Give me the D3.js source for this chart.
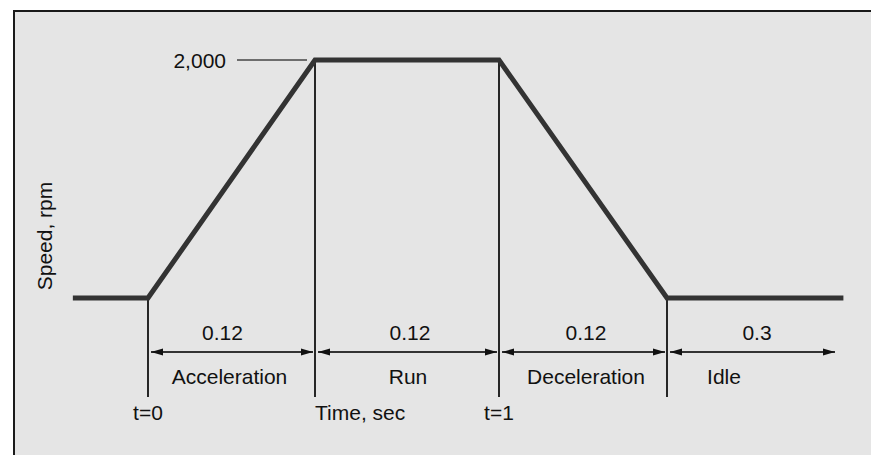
<!DOCTYPE html>
<html>
<head>
<meta charset="utf-8">
<script src="https://cdn.jsdelivr.net/npm/d3@7"></script>
<style>
  html, body { margin: 0; background: #fff; overflow: hidden; }
  svg { display: block; }
  text { font-family: "Liberation Sans", Arial, sans-serif; font-size: 21px; fill: #111; }
</style>
</head>
<body>
<div id="chart"></div>
<script>
// Phase data (seconds)
var phases = ["Acceleration", "Run", "Deceleration", "Idle"];
var durations = [0.12, 0.12, 0.12, 0.3];
var durationLabels = ["0.12", "0.12", "0.12", "0.3"];

// Speed profile points
var profileTime = [-0.054, 0, 0.12, 0.24, 0.36, 0.675];
var profileSpeed = [0, 0, 2000, 2000, 0, 0];

// Time labels under the guide lines
var timeLabels = ["t=0", "Time, sec", "t=1"];
var speedTicks = [2000];

var width = 871, height = 455;

var svg = d3.select("#chart").append("svg")
	.attr("width", width)
	.attr("height", height);

// frame: grey panel, border only on top and left
svg.append("rect")
	.attr("x", 14).attr("y", 11)
	.attr("width", width - 14).attr("height", height - 11)
	.attr("fill", "#e5e5e5");
svg.append("line")
	.attr("x1", 14).attr("x2", 14)
	.attr("y1", 10).attr("y2", height)
	.attr("stroke", "#1a1a1a")
	.attr("stroke-width", 2);
svg.append("line")
	.attr("x1", 13).attr("x2", width)
	.attr("y1", 11).attr("y2", 11)
	.attr("stroke", "#1a1a1a")
	.attr("stroke-width", 2);

// cumulative boundaries
var bounds = [0];
durations.forEach(function(d, i){ bounds.push(+(bounds[i] + d).toFixed(3)); });

// schematic (non proportional) time axis
var x = d3.scaleLinear()
	.domain(bounds)
	.range([148, 315, 499, 667, 835]);

var y = d3.scaleLinear()
	.domain([0, 2000])
	.range([298, 60]);

var guideBottom = 397, arrowY = 352;
// small nudges of the labels off the segment centres, as in the drawing
var durShift = [-9, 3, 3, 6];
var phaseShift = [-2, 1, 3, -27];

// arrow heads
var defs = svg.append("defs");
["start", "end"].forEach(function(k){
	defs.append("marker")
		.attr("id", "arrow-" + k)
		.attr("viewBox", "0 0 12 8")
		.attr("refX", k == "end" ? 12 : 0).attr("refY", 4)
		.attr("markerWidth", 12).attr("markerHeight", 8)
		.attr("markerUnits", "userSpaceOnUse")
		.attr("orient", "auto")
		.append("path")
		.attr("d", k == "end" ? "M0,0.5L12,4L0,7.5Z" : "M12,0.5L0,4L12,7.5Z")
		.attr("fill", "#111");
});

// vertical guide lines at phase boundaries
var speedAt = d3.scaleLinear().domain(profileTime).range(profileSpeed);
svg.append("g")
	.selectAll("line")
	.data(bounds.slice(0, 4))
	.enter().append("line")
	.attr("x1", d => x(d)).attr("x2", d => x(d))
	.attr("y1", d => y(speedAt(d))).attr("y2", guideBottom)
	.attr("stroke", "#111")
	.attr("stroke-width", 1.8);

// duration arrows
svg.append("g")
	.selectAll("line")
	.data(durations)
	.enter().append("line")
	.attr("x1", (d, i) => x(bounds[i]) + 3)
	.attr("x2", (d, i) => x(bounds[i + 1]) - (i < 3 ? 2 : 0))
	.attr("y1", arrowY).attr("y2", arrowY)
	.attr("stroke", "#333")
	.attr("stroke-width", 1.8)
	.attr("marker-start", "url(#arrow-start)")
	.attr("marker-end", "url(#arrow-end)");

// duration labels
svg.append("g")
	.selectAll("text")
	.data(durationLabels)
	.enter().append("text")
	.attr("x", (d, i) => (x(bounds[i]) + x(bounds[i + 1])) / 2 + durShift[i])
	.attr("y", 340)
	.attr("text-anchor", "middle")
	.text(d => d);

// phase names
svg.append("g")
	.selectAll("text")
	.data(phases)
	.enter().append("text")
	.attr("x", (d, i) => (x(bounds[i]) + x(bounds[i + 1])) / 2 + phaseShift[i])
	.attr("y", 384)
	.attr("text-anchor", "middle")
	.text(d => d);

// time labels
svg.append("g")
	.selectAll("text")
	.data(timeLabels)
	.enter().append("text")
	.attr("x", (d, i) => x(bounds[i]))
	.attr("y", 420)
	.attr("text-anchor", (d, i) => i == 1 ? "start" : "middle")
	.text(d => d);

// speed tick with leader line
var tick = svg.append("g")
	.selectAll("g")
	.data(speedTicks)
	.enter().append("g");
tick.append("line")
	.attr("x1", 237).attr("x2", x(bounds[1]) - 8)
	.attr("y1", d => y(d)).attr("y2", d => y(d))
	.attr("stroke", "#444")
	.attr("stroke-width", 1.5);
tick.append("text")
	.attr("x", 226)
	.attr("y", d => y(d) + 8)
	.attr("text-anchor", "end")
	.text(d => d3.format(",")(d));

// y axis title
svg.append("text")
	.attr("transform", "translate(52,236) rotate(-90)")
	.attr("text-anchor", "middle")
	.text("Speed, rpm");

// speed profile
var line = d3.line()
	.x(d => x(d[0]))
	.y(d => y(d[1]));

svg.append("path")
	.datum(d3.zip(profileTime, profileSpeed))
	.attr("d", line)
	.attr("fill", "none")
	.attr("stroke", "#333")
	.attr("stroke-width", 5)
	.attr("stroke-linejoin", "miter");
</script>
</body>
</html>
